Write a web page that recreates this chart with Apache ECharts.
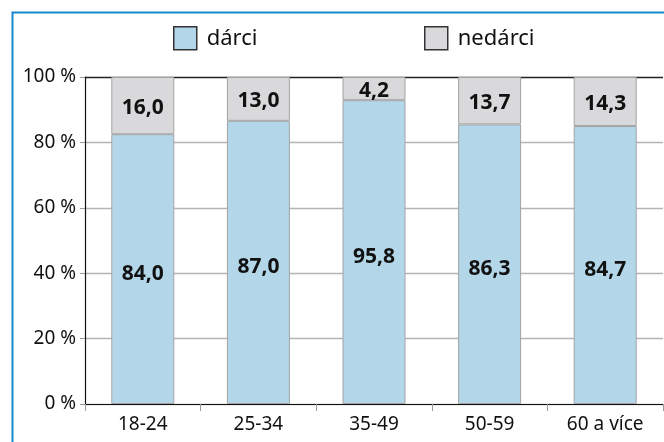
<!DOCTYPE html>
<html><head><meta charset="utf-8">
<script src="https://cdn.jsdelivr.net/npm/echarts@6/dist/echarts.min.js"></script>
<style>html,body{margin:0;padding:0;background:#fff}#c{width:664px;height:442px}</style>
</head><body><div id="c"></div>
<script>
const categories = ['18-24', '25-34', '35-49', '50-59', '60 a více'];
// bar heights as drawn in the picture (% of 100)
const darciValues = [82.5, 86.6, 92.9, 85.5, 85.0];
const nedarciValues = [17.5, 13.4, 7.1, 14.5, 15.0];
// values printed on the bars
const darciLabels = ['84,0', '87,0', '95,8', '86,3', '84,7'];
const nedarciLabels = ['16,0', '13,0', '4,2', '13,7', '14,3'];
const yTicks = [0, 20, 40, 60, 80, 100];

const FONT = 'Noto Sans';
const chart = echarts.init(document.getElementById('c'), null, {renderer: 'canvas'});
chart.setOption({
  animation: false,
  backgroundColor: '#fff',
  textStyle: {fontFamily: FONT},
  graphic: [{
    type: 'rect', shape: {x: 12.5, y: 12.5, width: 720, height: 500},
    style: {fill: null, stroke: '#1589c9', lineWidth: 2}, z: 100
  }],
  legend: [{
    data: ['dárci'], left: 168, top: 21, itemWidth: 23, itemHeight: 23,
    icon: 'rect', itemStyle: {borderColor: '#333', borderWidth: 1.5},
    textStyle: {fontSize: 22, color: '#111', fontFamily: FONT, padding: [0, 0, 0, 5]}
  }, {
    data: ['nedárci'], left: 419, top: 21, itemWidth: 23, itemHeight: 23,
    icon: 'rect', itemStyle: {borderColor: '#333', borderWidth: 1.5},
    textStyle: {fontSize: 22, color: '#111', fontFamily: FONT, padding: [0, 0, 0, 5]}
  }],
  grid: {left: 85, right: 1, top: 77, bottom: 38, containLabel: false},
  xAxis: {
    type: 'category', data: categories,
    axisLine: {lineStyle: {color: '#111', width: 1.2}},
    axisTick: {show: true, length: 7, lineStyle: {color: '#999'}},
    axisLabel: {fontSize: 19, color: '#111', margin: 11, fontFamily: FONT}
  },
  yAxis: {
    type: 'value', min: yTicks[0], max: yTicks[yTicks.length - 1], interval: 20,
    axisLine: {show: true, lineStyle: {color: '#111', width: 1.2}},
    axisTick: {show: true, length: 5, lineStyle: {color: '#999'}},
    axisLabel: {fontSize: 19, color: '#111', margin: 9, fontFamily: FONT, formatter: '{value} %'},
    splitLine: {show: true, lineStyle: {color: ['#b5b5b5', '#b5b5b5', '#b5b5b5', '#b5b5b5', '#b5b5b5', '#222'], width: 1.3}}
  },
  series: [{
    name: 'dárci', type: 'bar', stack: 'a', barWidth: 63, data: darciValues,
    itemStyle: {color: '#b3d7e8', borderColor: '#a3a3a3', borderWidth: 1},
    label: {show: true, position: 'inside', offset: [0, 5], fontSize: 21, fontWeight: 'bold', color: '#111', fontFamily: FONT,
      formatter: p => darciLabels[p.dataIndex]}
  }, {
    name: 'nedárci', type: 'bar', stack: 'a', barWidth: 63, data: nedarciValues,
    itemStyle: {color: '#d9d9db', borderColor: '#a3a3a3', borderWidth: 1},
    label: {show: true, position: 'inside', offset: [0, 2], fontSize: 21, fontWeight: 'bold', color: '#111', fontFamily: FONT,
      formatter: p => nedarciLabels[p.dataIndex]}
  }]
});
</script></body></html>
